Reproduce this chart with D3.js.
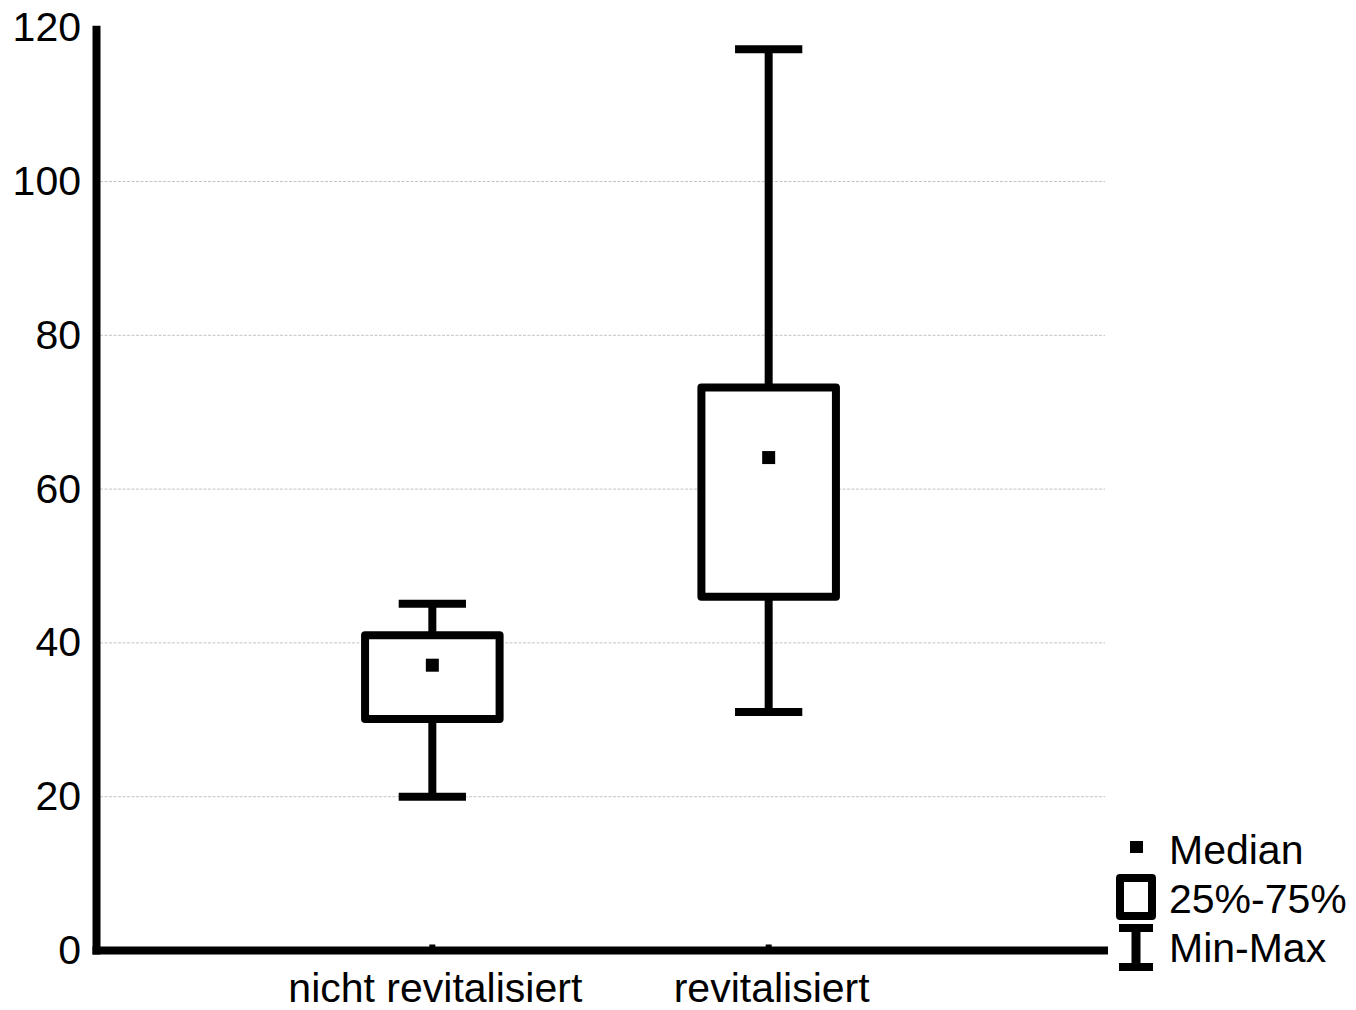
<!DOCTYPE html>
<html>
<head>
<meta charset="utf-8">
<script src="https://cdnjs.cloudflare.com/ajax/libs/d3/7.8.5/d3.min.js"></script>
<style>
  body { margin: 0; background: #fff; }
  svg text { font-family: "Liberation Sans", Arial, sans-serif; fill: #000; }
</style>
</head>
<body>
<svg id="chart" width="1356" height="1010"></svg>
<script>
// groups and their box statistics
var groups = ["nicht revitalisiert", "revitalisiert"];
var minVals = [20.0, 31.0];
var q1Vals = [30.1, 46.0];
var medianVals = [37.1, 64.1];
var q3Vals = [41.0, 73.2];
var maxVals = [45.1, 117.2];

var yTicks = [0, 20, 40, 60, 80, 100, 120];
var gridTicks = [20, 40, 60, 80, 100];
var legendLabels = ["Median", "25%-75%", "Min-Max"];

var svg = d3.select("#chart");
var lw = 8;

var x = d3.scalePoint().domain(groups).range([96, 1105]).padding(1);
var y = d3.scaleLinear().domain([0, 120]).range([950.5, 27.7]);

var boxW = x.step() * 0.4;
var capW = boxW / 2;

// dashed grid lines
svg.selectAll(".grid").data(gridTicks).enter().append("line")
    .attr("class", "grid")
    .attr("x1", 100).attr("x2", 1105)
    .attr("y1", function(d){ return y(d); })
    .attr("y2", function(d){ return y(d); })
    .attr("stroke", "#c4c4c4").attr("stroke-width", 1)
    .attr("stroke-dasharray", "3,1.5");

// y labels
svg.selectAll(".ylab").data(yTicks).enter().append("text")
    .attr("class", "ylab")
    .attr("x", 81)
    .attr("y", function(d){ return y(d) + 13.5; })
    .attr("text-anchor", "end")
    .style("font-size", "41px")
    .text(function(d){ return d; });

// axes
svg.append("line")
    .attr("x1", 96.5).attr("x2", 96.5)
    .attr("y1", y(120) - 2).attr("y2", y(0) + 4)
    .attr("stroke", "#000").attr("stroke-width", lw);
svg.append("line")
    .attr("x1", 92.5).attr("x2", 1108)
    .attr("y1", y(0)).attr("y2", y(0))
    .attr("stroke", "#000").attr("stroke-width", lw);

// small category ticks on the x axis
svg.selectAll(".xtick").data(groups).enter().append("rect")
    .attr("x", function(d){ return x(d) - 3; })
    .attr("y", y(0) - lw / 2 - 2)
    .attr("width", 6).attr("height", 3)
    .attr("fill", "#000");

// x labels
svg.selectAll(".xlab").data(groups).enter().append("text")
    .attr("class", "xlab")
    .attr("x", function(d){ return x(d) + 3; })
    .attr("y", 1002)
    .attr("text-anchor", "middle")
    .style("font-size", "41px")
    .text(function(d){ return d; });

// boxes
var boxes = svg.selectAll(".box").data(groups).enter().append("g").attr("class", "box");

boxes.each(function(d, i){
    var g = d3.select(this);
    var cx = x(d);
    // whiskers
    g.append("line").attr("x1", cx).attr("x2", cx)
        .attr("y1", y(maxVals[i])).attr("y2", y(q3Vals[i]))
        .attr("stroke", "#000").attr("stroke-width", lw);
    g.append("line").attr("x1", cx).attr("x2", cx)
        .attr("y1", y(q1Vals[i])).attr("y2", y(minVals[i]))
        .attr("stroke", "#000").attr("stroke-width", lw);
    // caps
    [maxVals[i], minVals[i]].forEach(function(v){
        g.append("line")
            .attr("x1", cx - capW / 2).attr("x2", cx + capW / 2)
            .attr("y1", y(v)).attr("y2", y(v))
            .attr("stroke", "#000").attr("stroke-width", lw);
    });
    // box
    g.append("rect")
        .attr("x", cx - boxW / 2).attr("y", y(q3Vals[i]))
        .attr("width", boxW).attr("height", y(q1Vals[i]) - y(q3Vals[i]))
        .attr("fill", "#fff").attr("stroke", "#000").attr("stroke-width", lw)
        .attr("stroke-linejoin", "round");
    // median
    g.append("rect")
        .attr("x", cx - 6.5).attr("y", y(medianVals[i]) - 6.5)
        .attr("width", 13).attr("height", 13)
        .attr("fill", "#000");
});

// legend
var leg = svg.append("g").attr("transform", "translate(1136,0)");
leg.append("rect").attr("x", -6).attr("y", 841).attr("width", 13).attr("height", 12).attr("fill", "#000");
leg.append("rect").attr("x", -16).attr("y", 878).attr("width", 32).attr("height", 38)
    .attr("fill", "#fff").attr("stroke", "#000").attr("stroke-width", lw).attr("stroke-linejoin", "round");
leg.append("line").attr("x1", 0).attr("x2", 0).attr("y1", 928).attr("y2", 967)
    .attr("stroke", "#000").attr("stroke-width", 9);
leg.append("line").attr("x1", -17).attr("x2", 17).attr("y1", 928).attr("y2", 928)
    .attr("stroke", "#000").attr("stroke-width", lw);
leg.append("line").attr("x1", -17).attr("x2", 17).attr("y1", 967).attr("y2", 967)
    .attr("stroke", "#000").attr("stroke-width", lw);

leg.selectAll(".legtext").data(legendLabels).enter().append("text")
    .attr("x", 33)
    .attr("y", function(d, i){ return 864 + i * 49; })
    .style("font-size", "41px")
    .text(function(d){ return d; });
</script>
</body>
</html>
